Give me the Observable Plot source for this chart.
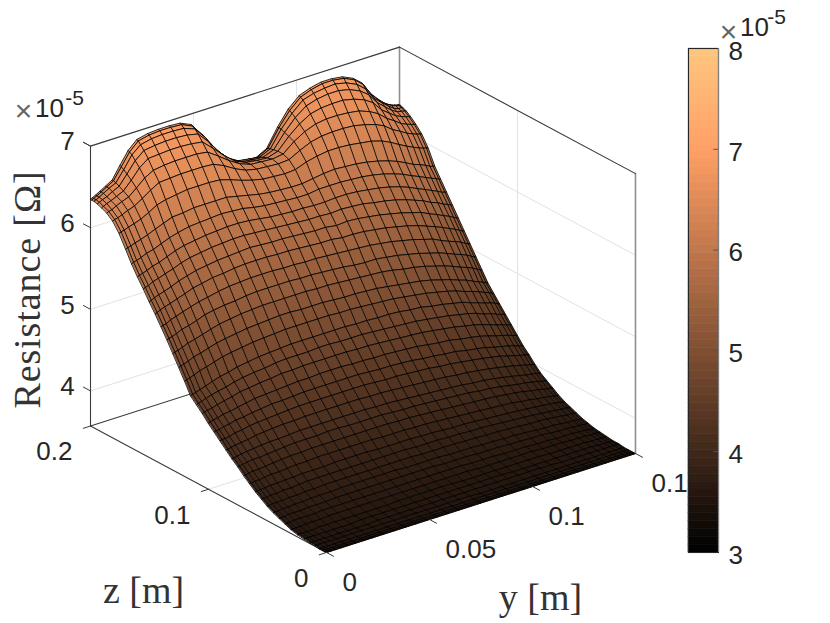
<!DOCTYPE html>
<html><head><meta charset="utf-8">
<script src="https://cdn.jsdelivr.net/npm/d3@7"></script>
<script src="https://cdn.jsdelivr.net/npm/@observablehq/plot@0.6"></script>
<style>
html,body{margin:0;padding:0;background:#fff;overflow:hidden}
#wrap{position:relative;width:830px;height:623px}
#wrap svg{position:absolute;top:0;background:transparent}
</style></head><body><div id="wrap"></div>
<script>
const yNodes=[0,.0009,.0024,.0045,.0072,.0105,.0143,.0183,.0225,.0278,.033,.0383,.0435,.0488,.054,.0593,.0645,.0698,.075,.0803,.0855,.0908,.096,.1013,.1065,.1118,.117,.1223,.1275,.1317,.1358,.1395,.1428,.1455,.1476,.1491,.15];
const zNodes=[0,.0012,.0032,.006,.0096,.014,.019,.0244,.03,.035,.04,.045,.05,.055,.06,.065,.07,.075,.08,.085,.09,.095,.1,.105,.11,.115,.12,.125,.13,.135,.14,.145,.15,.155,.16,.165,.17,.1756,.181,.186,.1904,.194,.1968,.1988,.2];
// resistance in units of 1e-7 ohm: one row per z node, one column per y node
const resistance=[
[357,357,357,357,357,357,357,357,357,357,357,357,357,357,357,357,357,357,357,357,357,357,357,357,357,357,357,357,357,357,357,357,357,357,357,357,357],
[357,357,357,357,357,357,357,357,357,357,357,357,357,357,357,357,357,357,357,357,357,357,357,357,357,357,357,357,357,357,357,357,357,357,357,357,357],
[357,357,357,357,357,357,357,357,357,357,357,357,357,357,357,357,357,357,357,357,357,357,357,357,357,357,357,357,357,357,357,357,357,357,357,357,357],
[357,357,357,357,357,357,357,357,357,357,357,357,357,357,357,357,357,357,357,357,357,357,357,357,357,357,357,357,357,357,357,357,357,357,357,357,357],
[358,358,358,358,358,358,358,358,358,358,358,358,358,358,358,358,358,358,358,357,357,357,357,357,357,357,357,357,357,357,357,357,357,357,357,357,357],
[358,358,358,358,358,358,358,358,358,358,359,359,359,359,359,359,359,359,359,359,359,359,359,359,359,359,359,358,358,358,358,358,358,358,358,358,358],
[359,359,359,359,359,359,359,359,359,360,360,360,360,360,360,360,360,360,360,360,360,360,360,359,359,359,359,359,359,359,359,359,358,358,358,358,358],
[360,360,360,360,360,361,361,361,361,361,361,361,361,362,362,362,362,362,362,361,361,361,361,361,361,361,361,360,360,360,360,360,359,359,359,359,359],
[362,362,362,362,363,363,363,364,364,364,364,364,364,364,364,364,364,364,364,364,364,363,363,363,363,363,363,362,362,362,361,361,361,360,360,360,360],
[365,365,365,366,366,366,366,367,367,367,367,367,367,367,367,367,367,367,367,367,367,366,366,366,365,365,365,364,364,363,363,363,362,362,361,361,361],
[368,368,368,369,369,369,370,370,370,371,371,371,371,371,371,371,371,371,371,370,370,370,369,369,369,368,368,367,367,366,365,365,364,364,363,363,363],
[371,371,371,372,372,373,373,374,374,374,375,375,375,375,375,375,374,374,374,374,373,373,373,372,372,371,371,370,369,368,368,367,366,366,365,365,365],
[375,375,376,376,376,377,377,378,378,379,379,379,379,379,379,379,379,379,378,378,378,378,377,377,376,376,375,374,373,373,372,371,370,369,369,368,368],
[380,380,380,381,381,382,382,383,384,384,384,384,384,384,384,384,384,384,383,383,383,382,382,381,381,380,379,378,377,376,375,374,373,372,372,371,371],
[385,385,386,386,387,387,388,388,389,389,389,390,390,390,390,389,389,389,389,388,388,387,386,386,385,384,383,382,381,380,379,378,377,376,375,374,374],
[391,391,392,392,393,394,394,395,396,396,397,397,397,397,397,397,396,396,396,395,395,394,393,392,391,390,389,388,387,385,384,382,381,380,379,378,378],
[397,397,398,399,399,400,401,402,403,403,404,404,404,404,404,404,404,404,403,403,402,401,400,399,398,397,396,395,393,392,390,388,387,385,384,384,383],
[404,404,405,406,407,407,408,409,410,411,411,411,412,412,411,411,411,411,410,409,409,408,407,406,405,404,402,401,399,397,395,394,392,391,389,389,388],
[410,410,411,412,413,414,415,416,416,417,418,418,418,418,418,418,418,417,417,416,415,414,413,412,411,410,408,407,405,403,401,399,397,396,395,394,393],
[417,417,418,419,420,421,423,424,425,426,426,427,427,427,427,427,427,426,426,425,424,423,422,421,420,418,417,415,413,411,409,407,405,403,402,401,400],
[424,425,425,426,428,429,431,432,433,434,435,436,436,436,436,436,436,436,435,434,434,433,432,431,429,428,426,424,422,420,418,415,413,411,410,409,408],
[431,432,432,434,435,437,438,440,441,443,443,444,445,445,445,445,445,445,444,443,443,442,441,439,438,436,435,432,430,428,425,423,421,419,417,416,415],
[438,439,440,441,443,444,446,448,450,451,452,453,454,454,455,455,455,454,454,453,453,452,451,450,448,446,445,442,440,438,435,432,430,428,426,425,424],
[446,447,448,449,451,453,455,458,459,461,462,464,464,465,465,465,465,465,464,464,463,462,461,460,459,457,455,453,450,448,445,442,439,437,435,434,433],
[453,454,455,457,459,461,463,466,468,470,471,473,474,474,474,475,475,474,474,474,473,472,471,470,469,467,465,463,460,458,455,451,449,446,444,443,442],
[460,461,462,464,466,469,472,474,477,479,481,482,483,484,484,484,484,484,484,483,483,482,482,481,479,478,475,473,470,468,464,461,458,456,454,452,451],
[474,475,476,478,481,483,486,489,491,493,495,496,497,498,498,498,498,498,497,497,496,495,494,493,491,489,487,484,481,478,474,471,468,465,463,461,460],
[487,488,489,491,494,496,499,502,504,506,508,509,510,511,511,510,510,510,509,508,508,507,506,504,502,500,498,495,491,488,484,481,477,474,472,470,469],
[500,501,502,504,507,509,512,515,518,520,522,523,524,524,524,524,524,523,523,522,521,520,519,518,516,513,511,508,504,501,497,493,490,487,484,482,481],
[513,514,515,517,520,522,525,529,531,533,534,536,537,537,537,537,536,536,535,534,533,531,530,530,528,526,523,520,516,513,509,505,502,499,496,494,493],
[525,526,527,530,532,535,538,541,543,546,548,549,550,550,550,549,549,548,548,547,546,545,544,543,541,539,536,533,529,526,521,517,514,511,508,506,505],
[537,538,540,542,544,547,550,554,556,559,560,562,563,563,563,562,562,561,560,559,559,557,557,556,554,552,549,546,542,538,534,530,526,523,520,518,517],
[548,549,551,553,555,558,562,565,568,570,572,573,574,575,574,573,573,572,571,570,570,568,569,568,566,564,561,558,554,551,546,542,538,535,532,530,529],
[560,561,562,565,567,570,573,577,580,582,584,585,586,586,585,584,583,582,581,580,580,579,580,579,578,575,573,570,566,562,558,553,550,546,544,542,541],
[571,572,573,575,578,580,584,588,591,593,595,596,597,597,596,594,592,591,590,590,589,589,590,590,589,587,585,582,578,574,569,565,561,558,555,554,553],
[583,584,585,587,590,592,596,600,603,606,607,608,609,608,607,604,602,601,600,599,599,601,601,601,600,599,597,594,590,586,581,577,573,570,568,566,565],
[597,598,599,601,603,606,610,614,618,619,621,621,621,621,618,615,612,610,609,608,608,610,612,613,612,611,609,606,602,598,593,588,585,582,579,578,577],
[612,613,614,616,618,621,626,632,635,637,639,639,639,638,634,629,625,622,621,620,621,626,629,631,631,630,628,626,622,617,611,606,602,599,597,596,595],
[623,624,625,627,630,633,639,646,652,653,654,654,654,653,647,639,633,630,629,628,629,636,642,645,646,646,645,642,638,633,625,620,615,612,610,609,608],
[629,630,631,634,637,640,648,657,663,665,666,666,666,664,655,645,637,632,631,630,632,643,651,656,658,658,657,655,650,644,635,629,623,620,618,617,616],
[632,633,635,637,640,644,654,666,674,675,676,676,675,673,661,648,637,631,629,628,632,646,657,665,668,669,669,666,661,654,642,635,629,626,624,623,622],
[634,635,637,639,643,647,659,672,681,683,684,684,683,680,666,649,636,629,627,626,631,648,662,672,676,678,678,675,669,661,648,640,633,629,628,627,626],
[635,636,638,641,645,649,662,677,686,689,690,690,689,684,669,650,636,628,626,624,630,650,665,677,681,683,684,681,675,666,651,643,636,631,629,629,628],
[635,636,638,641,645,650,664,679,689,692,693,693,692,686,670,650,635,626,623,622,629,650,667,679,684,687,687,685,679,670,654,644,637,633,631,630,629],
[635,636,638,641,645,650,665,680,690,693,694,694,693,687,671,650,634,625,622,621,628,650,668,680,685,688,688,686,680,671,655,645,637,633,631,630,630]
];
const rTicks=[4,5,6,7];
const yTicks=[0,.05,.1,.15];
const yTickLabels=["0","0.05","0.1","0.1"];
const zTicks=[0,.1,.2];
const zTickLabels=["0","0.1","0.2"];
const cbTicks=[3,4,5,6,7,8];
const yMax=.15,zMax=.2,rFloor=3.57,rTop=7;
const colorScale={type:"linear",domain:[3,7,8],range:["rgb(0,0,0)","rgb(255,159,101)","rgb(255,199,127)"]};
const ink="#262626",sans="'Liberation Sans',Arial,sans-serif",serif="'Liberation Serif',serif";

// orthographic view of the box
const px=(y,z)=>326+y/yMax*309-z/zMax*236;
const py=(y,z,r)=>552-y/yMax*99-z/zMax*126.5-(r-rFloor)*81.6;
const seg=(list)=>list.flatMap((s,i)=>s.map(p=>({x:px(p[0],p[1]),y:py(p[0],p[1],p[2]),id:i})));

const cells=[];
for(let j=zNodes.length-2;j>=0;j--)for(let i=yNodes.length-2;i>=0;i--){
  const c=[[i,j],[i+1,j],[i+1,j+1],[i,j+1]];
  const v=d3.mean(c,([a,b])=>resistance[b][a])/100;
  for(const [a,b] of c)cells.push({id:j*100+i,v,x:px(yNodes[a],zNodes[b]),y:py(yNodes[a],zNodes[b],resistance[b][a]/100)});
}
const grid=seg([
  ...rTicks.map(r=>[[0,zMax,r],[yMax,zMax,r]]),
  ...rTicks.map(r=>[[yMax,zMax,r],[yMax,0,r]]),
  ...yTicks.slice(1,3).map(y=>[[y,zMax,rFloor],[y,zMax,rTop]]),
  [[yMax,.1,rFloor],[yMax,.1,rTop]],
  [[0,.1,rFloor],[yMax,.1,rFloor]]
]);
const darkBox=seg([
  [[0,zMax,rFloor],[0,zMax,rTop]],
  [[0,zMax,rTop],[yMax,zMax,rTop]],
  [[yMax,zMax,rTop],[yMax,0,rTop]],
  [[0,zMax,rFloor],[0,0,rFloor]],
  [[0,0,rFloor],[yMax,0,rFloor]],
  [[0,zMax,rFloor],[yMax,zMax,rFloor]]
]);
const greyBox=seg([
  [[yMax,zMax,rFloor],[yMax,zMax,rTop]],
  [[yMax,0,rFloor],[yMax,0,rTop]]
]);
const tickLines=seg([
  ...rTicks.concat([rTop]).map(r=>[[0,zMax,r],[0,zMax+.006,r]]),
  ...zTicks.map(z=>[[0,z,rFloor],[-.0035,z,rFloor]]),
  ...yTicks.map(y=>[[y,0,rFloor],[y,-.006,rFloor]])
]);
const txt=(t,o)=>Plot.text([t],{text:d=>d,fontFamily:sans,fill:ink,fontSize:26,lineAnchor:"middle",...o});

const main=Plot.plot({
  width:830,height:623,margin:0,
  x:{domain:[0,830],range:[0,830],axis:null},
  y:{domain:[0,623],range:[0,623],axis:null},
  color:colorScale,
  marks:[
    Plot.line(grid,{x:"x",y:"y",z:"id",stroke:"#e2e2e2",strokeWidth:1}),
    Plot.line(greyBox,{x:"x",y:"y",z:"id",stroke:"#8f8f8f",strokeWidth:1.6}),
    Plot.line(darkBox,{x:"x",y:"y",z:"id",stroke:"#3a3a3a",strokeWidth:1.1}),
    Plot.line(cells,{x:"x",y:"y",z:"id",fill:"v",stroke:"#000",strokeWidth:.85,strokeOpacity:.95,curve:"linear-closed"}),
    Plot.line(tickLines,{x:"x",y:"y",z:"id",stroke:"#3a3a3a",strokeWidth:1}),
    Plot.text(rTicks,{x:()=>67,y:r=>py(0,zMax,r)-4,text:r=>String(r),fontFamily:sans,fill:ink,fontSize:26,lineAnchor:"middle"}),
    Plot.text(zTicks,{x:z=>px(0,z)-18,y:z=>py(0,z,rFloor)+26,text:(z,i)=>zTickLabels[i],textAnchor:"end",fontFamily:sans,fill:ink,fontSize:26,lineAnchor:"middle"}),
    Plot.text(yTicks,{x:y=>px(y,0)+16,y:y=>py(y,0,rFloor)+30,text:(y,i)=>yTickLabels[i],textAnchor:"start",fontFamily:sans,fill:ink,fontSize:26,lineAnchor:"middle"}),
    txt("×",{x:23,y:111,fontSize:30,fill:"#666"}),
    txt("10",{x:49,y:108,fontSize:26}),
    txt("-5",{x:74,y:98,fontSize:21}),
    txt("×",{x:728,y:32,fontSize:30,fill:"#666"}),
    txt("10",{x:754,y:27,fontSize:26}),
    txt("-5",{x:776,y:17,fontSize:21}),
    txt("Resistance [Ω]",{x:27,y:289,rotate:-90,fontFamily:serif,fontSize:38,fill:"#333"}),
    txt("z [m]",{x:143,y:590,fontFamily:serif,fontSize:38,fill:"#333"}),
    txt("y [m]",{x:540,y:597,fontFamily:serif,fontSize:38,fill:"#333"})
  ]
});
for(const t of main.querySelectorAll("text"))if(t.textContent.startsWith("Resistance"))t.style.letterSpacing="0.9px";
const levels=d3.range(64).map(i=>({lo:3+i*5/64,hi:3+(i+1)*5/64}));
const bar=Plot.plot({
  width:142,height:623,marginLeft:1,marginRight:111,marginTop:48,marginBottom:71,
  x:{domain:[0,1],axis:null},
  y:{domain:[3,8],axis:null},
  color:colorScale,
  marks:[
    Plot.rect(levels,{x1:()=>0,x2:()=>1,y1:"lo",y2:"hi",fill:d=>(d.lo+d.hi)/2,stroke:d=>(d.lo+d.hi)/2,strokeWidth:.6}),
    Plot.ruleY(cbTicks.slice(1,-1),{x1:()=>.84,x2:()=>1,stroke:"#555",strokeWidth:1}),
    Plot.frame({stroke:ink,strokeWidth:1.1}),
    Plot.ruleX([1],{stroke:"#808080",strokeWidth:1.2}),
    Plot.axisY({anchor:"right",ticks:cbTicks,tickSize:0,tickPadding:10,fontSize:26,fontFamily:sans,color:ink,label:null,tickFormat:d=>String(d),dy:3})
  ]
});
bar.style.left="687px";
const wrap=document.getElementById("wrap");
wrap.append(main,bar);
</script></body></html>
